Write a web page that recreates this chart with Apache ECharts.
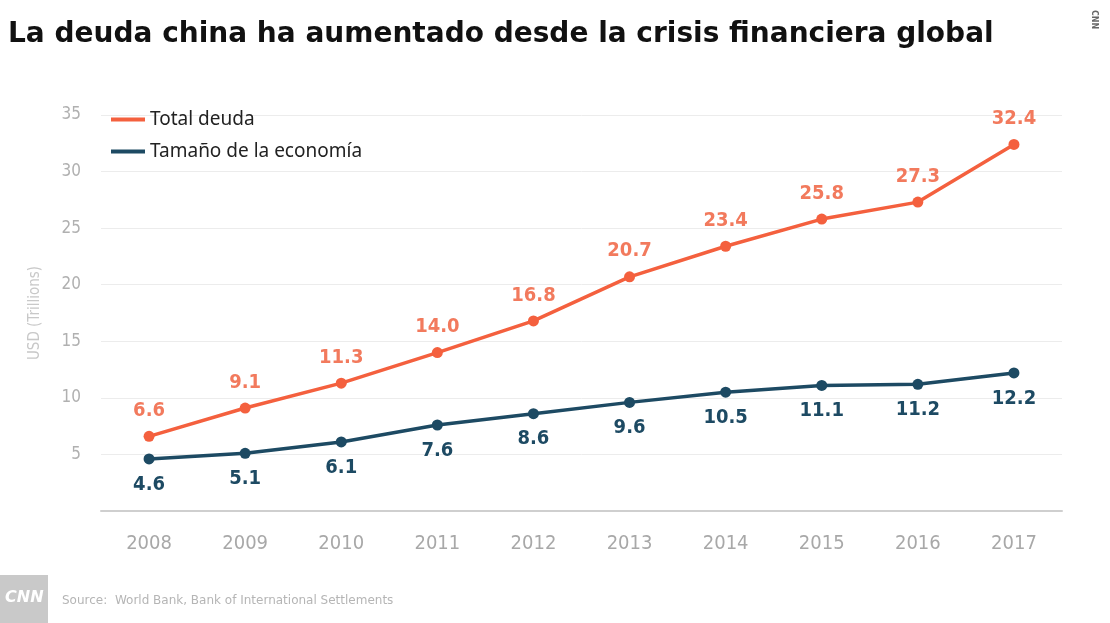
<!DOCTYPE html>
<html><head><meta charset="utf-8">
<script src="https://cdn.jsdelivr.net/npm/echarts@6/dist/echarts.min.js"></script>
<style>html,body{margin:0;padding:0;background:#fff}#c{width:1110px;height:623px}</style>
</head><body><div id="c"></div>
<script>
const years = ['2008','2009','2010','2011','2012','2013','2014','2015','2016','2017'];
const totalDebt = [6.6, 9.1, 11.3, 14.0, 16.8, 20.7, 23.4, 25.8, 27.3, 32.4];
const economySize = [4.6, 5.1, 6.1, 7.6, 8.6, 9.6, 10.5, 11.1, 11.2, 12.2];
const seriesNames = ['Total deuda', 'Tamaño de la economía'];
const titleText = 'La deuda china ha aumentado desde la crisis financiera global';
const yAxisName = 'USD (Trillions)';
const sourceText = 'Source:  World Bank, Bank of International Settlements';

const narrow = '"Liberation Sans Narrow","DejaVu Sans Condensed","Roboto",sans-serif';
const RED = '#f4603e', RED_LBL = '#f27a5d', BLUE = '#1d4a63';
const chart = echarts.init(document.getElementById('c'));
chart.setOption({
  animation: false,
  backgroundColor: '#fff',
  title: { text: titleText, left: 3, top: 16,
    textStyle: { fontFamily: '"DejaVu Sans",sans-serif', fontWeight: 'bold', fontSize: 28, color: '#111' } },
  legend: { orient: 'vertical', left: 106, top: 105, itemGap: 13, itemWidth: 34, itemHeight: 4,
    icon: 'rect',
    textStyle: { fontFamily: '"Noto Sans","DejaVu Sans",sans-serif', fontSize: 19, color: '#222' },
    data: seriesNames },
  grid: { left: 101, right: 48, top: 115, bottom: 112, containLabel: false },
  xAxis: { type: 'category', data: years, boundaryGap: true,
    axisLine: { lineStyle: { color: '#cfcfcf', width: 2 } }, axisTick: { show: false },
    axisLabel: { color: '#a8a8a8', fontSize: 20, fontFamily: narrow, margin: 23 } },
  yAxis: { type: 'value', min: 0, max: 35, interval: 5,
    name: yAxisName, nameLocation: 'middle', nameGap: 58, nameRotate: 90,
    nameTextStyle: { color: '#c8c8c8', fontSize: 15, fontFamily: narrow },
    axisLine: { show: false }, axisTick: { show: false },
    axisLabel: { color: '#b0b0b0', fontSize: 17, fontFamily: narrow, margin: 20,
      formatter: v => v === 0 ? '' : String(v) },
    splitLine: { lineStyle: { color: '#ececec', width: 1 } } },
  series: [
    { name: seriesNames[0], type: 'line', data: totalDebt, color: RED,
      symbol: 'circle', symbolSize: 11, lineStyle: { width: 3.5, color: RED },
      itemStyle: { color: RED },
      label: { show: true, position: 'top', distance: 10, color: RED_LBL, fontSize: 20,
        fontFamily: narrow, fontWeight: 'bold', formatter: p => p.value.toFixed(1) } },
    { name: seriesNames[1], type: 'line', data: economySize, color: BLUE,
      symbol: 'circle', symbolSize: 11, lineStyle: { width: 3.5, color: BLUE },
      itemStyle: { color: BLUE },
      label: { show: true, position: 'bottom', distance: 10, color: BLUE, fontSize: 20,
        fontFamily: narrow, fontWeight: 'bold', formatter: p => p.value.toFixed(1) } }
  ],
  graphic: [
    { type: 'rect', left: 0, top: 575, shape: { width: 48, height: 48 }, style: { fill: '#c9c9c9' } },
    { type: 'text', left: 5, top: 590, style: { text: 'CNN', fill: '#fff', font: 'bold italic 16px "DejaVu Sans",sans-serif' } },
    { type: 'text', left: 62, top: 595, style: { text: sourceText, fill: '#b5b5b5', font: '12px "DejaVu Sans",sans-serif' } },
    { type: 'text', x: 1098, y: 10, rotation: -Math.PI / 2, style: { text: 'CNN', fill: '#666', font: 'bold 8px "DejaVu Sans",sans-serif' } }
  ]
});
</script></body></html>
